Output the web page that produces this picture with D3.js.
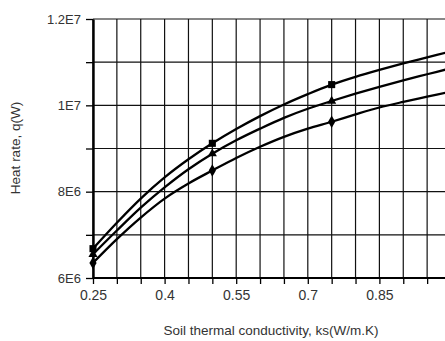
<!DOCTYPE html>
<html>
<head>
<meta charset="utf-8">
<script src="https://cdn.jsdelivr.net/npm/d3@7/dist/d3.min.js"></script>
<style>
  html, body { margin: 0; padding: 0; background: #fff; overflow: hidden; }
  svg { display: block; }
  text { font-family: "Liberation Sans", Arial, sans-serif; fill: #333; }
</style>
</head>
<body>
<svg id="chart" width="445" height="341"></svg>
<script>
// ---- data ----
const conductivity = [0.25, 0.30, 0.35, 0.40, 0.45, 0.50, 0.55, 0.60, 0.65, 0.70, 0.75, 0.80, 0.85, 0.90, 0.95, 1.00];
const seriesSquare = [6.68e6, 7.28e6, 7.84e6, 8.33e6, 8.75e6, 9.12e6, 9.45e6, 9.75e6, 10.02e6, 10.26e6, 10.48e6, 10.66e6, 10.82e6, 10.97e6, 11.11e6, 11.25e6];
const seriesTriangle = [6.55e6, 7.10e6, 7.63e6, 8.10e6, 8.52e6, 8.88e6, 9.19e6, 9.46e6, 9.71e6, 9.92e6, 10.10e6, 10.27e6, 10.43e6, 10.58e6, 10.72e6, 10.86e6];
const seriesDiamond = [6.35e6, 6.90e6, 7.40e6, 7.84e6, 8.19e6, 8.49e6, 8.78e6, 9.04e6, 9.27e6, 9.46e6, 9.62e6, 9.79e6, 9.95e6, 10.08e6, 10.20e6, 10.32e6];
const markerX = [0.25, 0.50, 0.75, 1.00];
const xTickValues = [0.25, 0.30, 0.35, 0.40, 0.45, 0.50, 0.55, 0.60, 0.65, 0.70, 0.75, 0.80, 0.85, 0.90, 0.95, 1.00];
const xTickLabels = ["0.25", "0.4", "0.55", "0.7", "0.85"];
const yTickValues = [6e6, 7e6, 8e6, 9e6, 10e6, 11e6, 12e6];
const yTickLabels = ["6E6", "8E6", "1E7", "1.2E7"];
const xTitle = "Soil thermal conductivity, ks(W/m.K)";
const yTitle = "Heat rate, q(W)";

// ---- layout ----
const svg = d3.select("#chart");
const W = 445, H = 341;
const x = d3.scaleLinear().domain([0.25, 1.0]).range([93, 451]);
const y = d3.scaleLinear().domain([6e6, 1.2e7]).range([278, 19]);

// grid
const grid = svg.append("g");
grid.selectAll("line.v").data(xTickValues).join("line")
  .attr("x1", d => x(d)).attr("x2", d => x(d))
  .attr("y1", y(1.2e7)).attr("y2", y(6e6))
  .attr("stroke", "#111").attr("stroke-width", 1.2);
grid.selectAll("line.h").data(yTickValues).join("line")
  .attr("x1", x(0.25)).attr("x2", W + 10)
  .attr("y1", d => y(d)).attr("y2", d => y(d))
  .attr("stroke", "#111").attr("stroke-width", 1.2);

// axes
const xAxis = d3.axisBottom(x).tickValues(xTickValues).tickSize(6).tickSizeOuter(0)
  .tickFormat(d => { const s = d3.format("~g")(+d.toFixed(2)); return xTickLabels.includes(s) ? s : ""; });
const gx = svg.append("g").attr("transform", `translate(0,${y(6e6)})`).call(xAxis);
gx.select(".domain").attr("stroke", "#000").attr("stroke-width", 2).attr("d", `M${x(0.25)},0H${W + 10}`);
gx.selectAll(".tick line").attr("stroke", "#000").attr("stroke-width", 1.3);
gx.selectAll(".tick text").attr("font-size", 14).attr("dy", "0.95em").attr("fill", "#333")
  .style("font-family", "Liberation Sans, Arial, sans-serif");

const yFmt = d => { const m = {6e6: "6E6", 8e6: "8E6", 10e6: "1E7", 12e6: "1.2E7"}; const s = m[d] || ""; return yTickLabels.includes(s) ? s : ""; };
const yAxis = d3.axisLeft(y).tickValues(yTickValues).tickSize(7).tickSizeOuter(0).tickFormat(yFmt);
const gy = svg.append("g").attr("transform", `translate(${x(0.25)},0)`).call(yAxis);
gy.select(".domain").attr("stroke", "#000").attr("stroke-width", 2.4);
gy.selectAll(".tick line").attr("stroke", "#000").attr("stroke-width", 1.3);
gy.selectAll(".tick text").attr("font-size", 13).attr("x", -12).attr("fill", "#333")
  .style("font-family", "Liberation Sans, Arial, sans-serif");

// titles
svg.append("text").attr("x", 271).attr("y", 335).attr("text-anchor", "middle")
  .attr("font-size", 13.5).text(xTitle);
svg.append("text").attr("transform", "translate(20,148) rotate(-90)").attr("text-anchor", "middle")
  .attr("font-size", 13.5).text(yTitle);

// curves
const series = [
  {vals: seriesSquare, shape: d3.symbolSquare, size: 50},
  {vals: seriesTriangle, shape: d3.symbolTriangle, size: 36},
  {vals: seriesDiamond, shape: d3.symbolDiamond, size: 45}
];
const line = d3.line().x(d => x(d[0])).y(d => y(d[1])).curve(d3.curveCatmullRom.alpha(0.5));
const plot = svg.append("g");
series.forEach(s => {
  const pts = conductivity.map((c, i) => [c, s.vals[i]]);
  plot.append("path").attr("d", line(pts)).attr("fill", "none")
    .attr("stroke", "#000").attr("stroke-width", 2.3);
  const mk = pts.filter(p => markerX.some(m => Math.abs(m - p[0]) < 1e-9));
  plot.selectAll(null).data(mk).join("path")
    .attr("transform", p => `translate(${x(p[0])},${y(p[1])})`)
    .attr("d", d3.symbol().type(s.shape).size(s.size))
    .attr("fill", "#000");
});
</script>
</body>
</html>
